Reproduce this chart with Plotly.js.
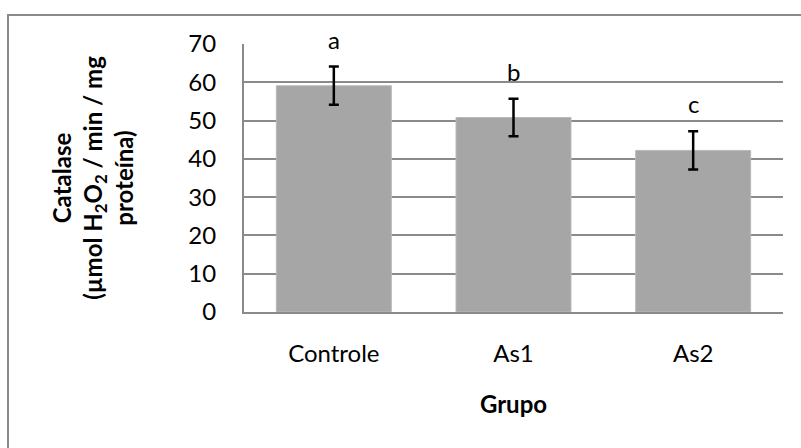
<!DOCTYPE html>
<html>
<head>
<meta charset="utf-8">
<script src="https://cdn.plot.ly/plotly-3.0.1.min.js"></script>
<style>html,body{margin:0;padding:0;background:#fff;}#chart{width:801px;height:448px;}</style>
</head>
<body>
<div id="chart"></div>
<script>
const categories = ['Controle', 'As1', 'As2'];
const values = [59.1, 50.8, 42.2];
const errors = [5.0, 4.9, 5.0];
const letters = ['a', 'b', 'c'];
const yTicks = [0, 10, 20, 30, 40, 50, 60, 70];

const FONT = 'Lato, "Open Sans", sans-serif';
const GRID = '#8a8a8a';
const FS = 24;

const trace = {
  type: 'bar',
  x: categories,
  y: values,
  marker: {color: '#a6a6a6', line: {color: '#bababa', width: 1}},
  error_y: {type: 'data', array: errors, visible: true, color: '#000000', thickness: 2.5, width: 5},
  hoverinfo: 'skip'
};

const annotations = categories.map((c, i) => ({
  x: c, y: values[i] + errors[i], xref: 'x', yref: 'y',
  text: letters[i], showarrow: false, xanchor: 'center', yanchor: 'bottom', yshift: 11,
  font: {family: FONT, size: FS, color: '#000'}
}));

const layout = {
  width: 801, height: 448,
  margin: {l: 244, r: 18, t: 44, b: 136},
  paper_bgcolor: '#ffffff', plot_bgcolor: '#ffffff',
  showlegend: false,
  bargap: 0.36,
  font: {family: FONT, size: FS, color: '#000'},
  xaxis: {
    type: 'category',
    showline: true, linecolor: GRID, linewidth: 2,
    ticks: '', ticklabelstandoff: 19,
    tickfont: {family: FONT, size: FS, color: '#000'},
    title: {text: 'Grupo', font: {family: FONT, size: FS, color: '#000', weight: 700}, standoff: 30},
    automargin: false
  },
  yaxis: {
    range: [0, 70], tickvals: yTicks, ticktext: yTicks.map(String),
    showline: true, linecolor: GRID, linewidth: 2,
    showgrid: true, gridcolor: GRID, gridwidth: 2,
    zeroline: false,
    ticks: '', ticklabelstandoff: 21,
    tickfont: {family: FONT, size: FS, color: '#000'},
    title: {text: 'Catalase<br>(µmol H<sub>2</sub>O<sub>2</sub> / min / mg<br>proteína)',
            font: {family: FONT, size: FS, color: '#000', weight: 700}, standoff: 48},
    automargin: false
  },
  annotations: annotations,
  shapes: [{
    type: 'rect', xref: 'paper', yref: 'paper',
    x0: (8 - 244) / 539, x1: 1.2, y0: -0.6, y1: (312 - 15) / 268,
    line: {color: '#8a8a8a', width: 2}, fillcolor: 'rgba(0,0,0,0)', layer: 'below'
  }]
};

Plotly.newPlot('chart', [trace], layout, {staticPlot: true, displayModeBar: false});
</script>
</body>
</html>
